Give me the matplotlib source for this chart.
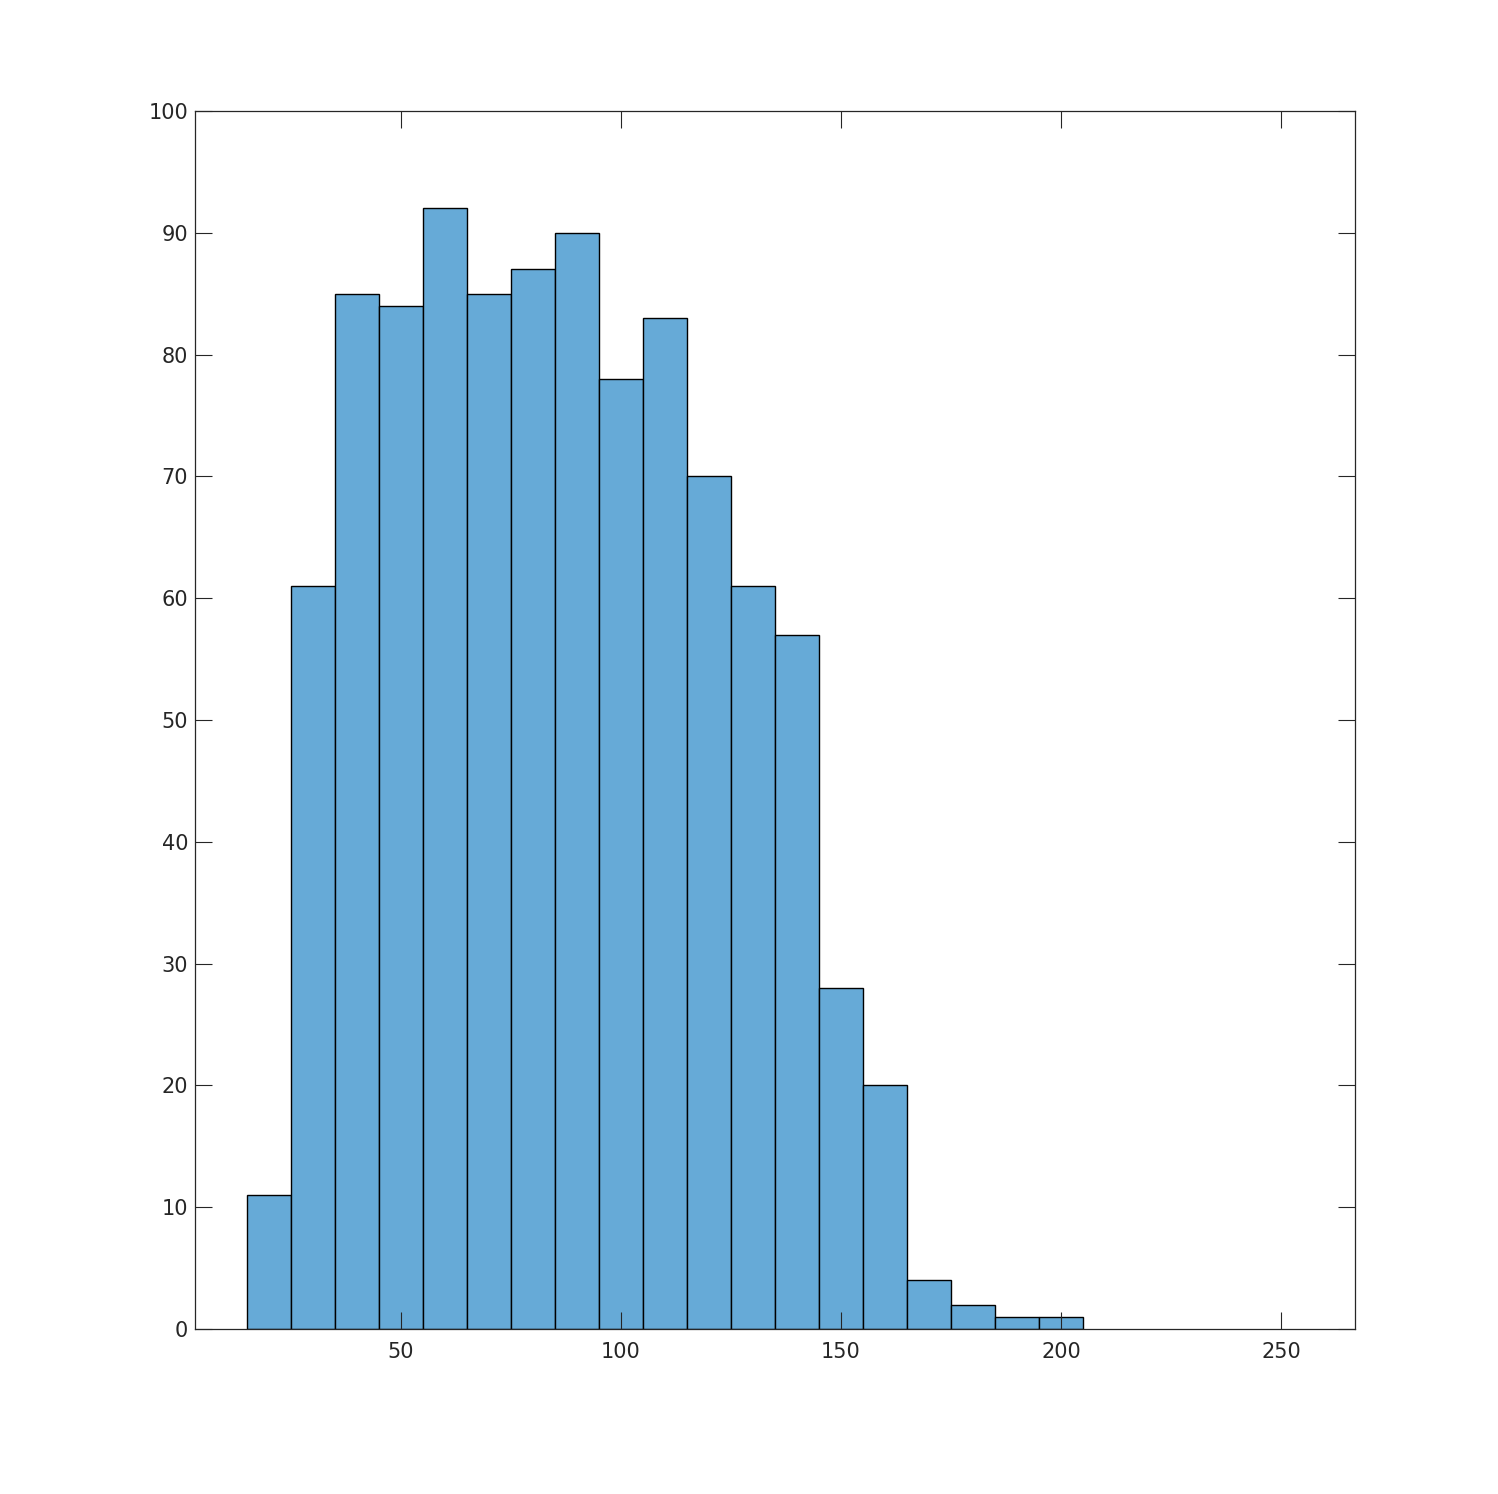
import numpy as np
import matplotlib
matplotlib.use("Agg")
import matplotlib.pyplot as plt

# histogram bin edges and counts
bin_edges = np.arange(15, 206, 10)
counts = [11, 61, 85, 84, 92, 85, 87, 90, 78, 83, 70, 61, 57, 28, 20, 4, 2, 1, 1]
xticks = [50, 100, 150, 200, 250]
yticks = [0, 10, 20, 30, 40, 50, 60, 70, 80, 90, 100]

fig = plt.figure(figsize=(14.98, 14.94), dpi=100)
ax = fig.add_axes([195/1498, 1 - 1329/1494, (1355-195)/1498, (1329-111)/1494])

ax.hist(bin_edges[:-1], bins=bin_edges, weights=counts,
        color=(0.4, 0.668, 0.845), edgecolor="black", linewidth=1.0)

ax.set_xlim(3.2, 266.8)
ax.set_ylim(0, 100)
ax.set_xticks(xticks)
ax.set_yticks(yticks)
ax.tick_params(direction="in", length=12, width=0.8, top=True, right=True,
               labelsize=15, labelcolor=(0.15, 0.15, 0.15), color=(0.15, 0.15, 0.15))
ax.tick_params(axis="x", pad=9)
ax.tick_params(axis="y", pad=5)
for s in ax.spines.values():
    s.set_linewidth(0.9)
    s.set_color((0.15, 0.15, 0.15))

fig.savefig("out.png", dpi=100)
